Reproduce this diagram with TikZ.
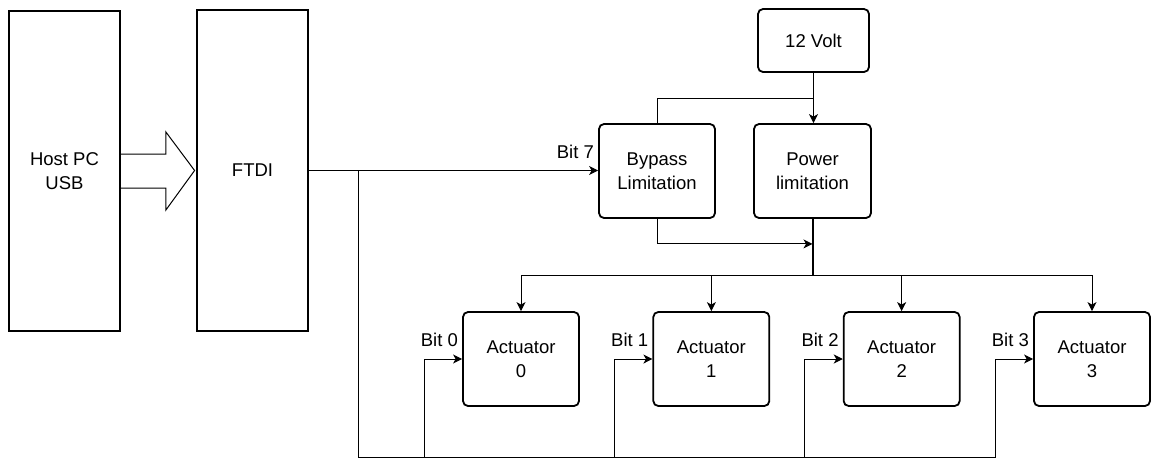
\documentclass[tikz,border=0pt]{standalone}
\usepackage{fontspec}
\setmainfont{Liberation Sans}
\usetikzlibrary{arrows.meta,calc}

\begin{document}
\begin{tikzpicture}[x=1pt,y=-1pt,
  font=\fontsize{18.5}{23.5}\selectfont,
  blk/.style={draw, line width=1.8pt, align=center, inner sep=0pt},
  rblk/.style={blk, rounded corners=5pt},
  wire/.style={line width=1pt},
  arr/.style={wire, -{Stealth[length=9pt,width=9pt,inset=2.5pt]}},
  lbl/.style={anchor=east, inner sep=0pt}]

\useasboundingbox (0,0) rectangle (1151,459);

% main blocks
\node[blk, minimum width=111pt, minimum height=320pt] (host) at (64.5,171) {Host PC\\USB};
\node[blk, minimum width=111pt, minimum height=321pt] (ftdi) at (252.5,170.5) {FTDI};

% power path
\node[rblk, minimum width=111pt, minimum height=63pt] (v12) at (813.5,40.5) {12 Volt};
\node[rblk, minimum width=116pt, minimum height=94pt] (byp) at (657,171) {Bypass\\Limitation};
\node[rblk, minimum width=117pt, minimum height=94pt] (pow) at (812.5,171) {Power\\limitation};

% actuators
\foreach \i in {0,1,2,3}{
  \node[rblk, minimum width=116pt, minimum height=94pt] (a\i) at ({521+\i*190.33},359) {Actuator\\\i};
  \node[lbl] (bit\i) at ($(a\i.west)+(-4,-19)$) {Bit \i};
}
\node[lbl] (bit7) at ($(byp.west)+(-4,-19)$) {Bit 7};

% USB link
\draw[wire, line join=miter]
  ($(host.east)+(0,-17)$) -- ++(45,0) -- ++(0,-22) -- ($(ftdi.west)+(-1.5,0)$)
  -- ($(host.east)+(45,39)$) -- ++(0,-22) -- ($(host.east)+(0,17)$);

% control lines from the FTDI
\draw[arr] (ftdi.east) -- (ftdi.east -| byp.west);
\foreach \i in {0,1,2,3}{
  \draw[arr] (ftdi.east) -- ++(49.5,0) |- ($(a\i.west)+(-38,98)$) |- (a\i.west);
}

% supply
\draw[arr] (v12.south) -- (v12.south |- pow.north);
\draw[wire] ($(v12.south)+(0,26)$) -| (byp.north);
\coordinate (pj) at ($(pow.south)+(0,25)$);
\draw[arr] (byp.south) |- (pj);
\foreach \i in {0,1,2,3}{
  \draw[arr] (pow.south) -- ++(0,57) -| (a\i.north);
}
\draw[line width=2pt] (pow.south) -- ++(0,57);
\end{tikzpicture}
\end{document}
